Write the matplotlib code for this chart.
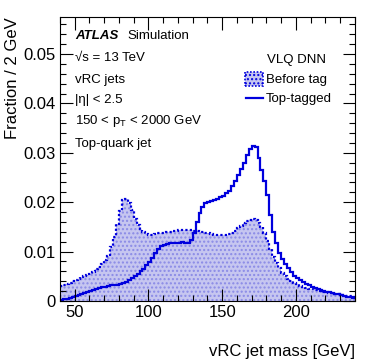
import numpy as np
import matplotlib
matplotlib.use("Agg")
import matplotlib.pyplot as plt
from matplotlib.ticker import MultipleLocator, FuncFormatter
from matplotlib.patches import Rectangle
from matplotlib.lines import Line2D

plt.rcParams['font.family'] = ['Liberation Sans', 'DejaVu Sans']
plt.rcParams['mathtext.fontset'] = 'custom'
plt.rcParams['mathtext.rm'] = 'Liberation Sans'
plt.rcParams['mathtext.it'] = 'Liberation Sans:italic'

# bin edges: 2 GeV bins from 40 to 240 GeV
bin_edges = np.arange(40, 242, 2)

# fraction per bin (x 1e-3)
before_tag = [
    3.0, 3.2, 3.4, 3.7, 4.0, 4.3, 4.5, 4.8, 5.0, 5.2,
    5.5, 5.9, 6.4, 6.9, 7.5, 8.2, 9.2, 10.9, 12.9, 15.5,
    18.3, 20.4, 20.6, 19.8, 18.5, 16.6, 15.3, 14.5, 14.0, 13.6,
    13.4, 13.4, 13.6, 13.7, 13.8, 13.8, 13.9, 14.0, 14.1, 14.2,
    14.3, 14.3, 14.4, 14.4, 14.3, 14.2, 14.2, 14.0, 13.9, 13.8,
    13.7, 13.5, 13.4, 13.3, 13.3, 13.3, 13.4, 13.5, 13.8, 14.2,
    14.7, 15.2, 15.7, 16.1, 16.4, 16.5, 16.3, 15.8, 15.0, 13.8,
    12.2, 10.5, 8.9, 7.6, 6.6, 5.7, 5.0, 4.5, 4.1, 3.7,
    3.4, 3.1, 2.9, 2.7, 2.5, 2.4, 2.2, 2.1, 2.0, 1.9,
    1.8, 1.7, 1.6, 1.5, 1.4, 1.3, 1.2, 1.1, 1.0, 0.9,
]
top_tagged = [
    0.2, 0.4, 0.5, 0.7, 0.9, 1.0, 1.2, 1.4, 1.6, 1.8,
    2.0, 2.2, 2.4, 2.6, 2.8, 2.9, 3.0, 3.2, 3.3, 3.3,
    3.4, 3.6, 3.9, 4.3, 4.7, 5.1, 5.5, 6.0, 6.5, 7.2,
    7.9, 8.8, 9.8, 10.6, 11.1, 11.4, 11.6, 11.7, 11.8, 11.8,
    11.8, 11.9, 11.8, 11.8, 12.4, 13.8, 16.0, 17.8, 19.0, 19.8,
    20.1, 20.3, 20.5, 20.7, 21.0, 21.3, 21.8, 22.3, 23.2, 24.3,
    25.6, 26.8, 28.0, 29.5, 30.8, 31.3, 31.2, 29.0, 26.5, 24.3,
    21.5, 17.5, 14.0, 11.8, 9.8, 8.5, 7.5, 6.6, 5.8, 5.1,
    4.6, 4.2, 3.8, 3.5, 3.2, 2.9, 2.7, 2.5, 2.3, 2.1,
    1.9, 1.8, 1.6, 1.5, 1.4, 1.2, 1.1, 0.9, 0.8, 0.6,
]

before_tag = np.array(before_tag) / 1000.0
top_tagged = np.array(top_tagged) / 1000.0

blue = "#0000dd"
fill_col = "#c6c6f0"

fig = plt.figure(figsize=(3.74, 3.59), dpi=100)
ax = fig.add_axes([0.160, 0.1616, 0.789, 0.791])

# before tag: filled, hatched, dotted outline
ax.stairs(before_tag, bin_edges, fill=True, facecolor=fill_col,
          edgecolor="#8a8ae6", hatch="....", linewidth=0, baseline=0)
ax.stairs(before_tag, bin_edges, color=blue, linewidth=1.6,
          linestyle=(0, (1, 1)), baseline=None)

# top-tagged: solid line
ax.stairs(top_tagged, bin_edges, color=blue, linewidth=1.6, baseline=None)

ax.set_xlim(40, 240)
ax.set_ylim(0, 0.0575)

ax.xaxis.set_major_locator(MultipleLocator(50))
ax.xaxis.set_minor_locator(MultipleLocator(10))
ax.yaxis.set_major_locator(MultipleLocator(0.01))
ax.yaxis.set_minor_locator(MultipleLocator(0.002))
ax.yaxis.set_major_formatter(FuncFormatter(lambda v, p: "0" if abs(v) < 1e-9 else "%g" % v))

ax.tick_params(which="both", direction="in", top=True, right=True, labelsize=12)
ax.tick_params(which="major", length=9, width=0.8, pad=3)
ax.tick_params(which="minor", length=4.5, width=0.8)
for s in ax.spines.values():
    s.set_linewidth(0.8)

ax.set_xlabel("vRC jet mass [GeV]", fontsize=12, loc="right")
ax.xaxis.set_label_coords(1.0, -0.15)
ax.set_ylabel("Fraction / 2 GeV", fontsize=12, loc="top")
ax.yaxis.set_label_coords(-0.136, 1.0)

# ATLAS label and info text
fig.text(75 / 374, 1 - 39 / 359, "ATLAS", fontsize=9.5, fontweight="bold",
         fontstyle="italic")
fig.text(127 / 374, 1 - 39 / 359, "Simulation", fontsize=9.5)
info = ["√s = 13 TeV", "vRC jets", "|η| < 2.5",
        r"150 < p$_{\rm T}$ < 2000 GeV", "Top-quark jet"]
ys = [61, 83, 103, 124, 147]
for t, y in zip(info, ys):
    fig.text(75 / 374, 1 - y / 359, t, fontsize=9.5)

# legend
fig.text(267 / 374, 1 - 63 / 359, "VLQ DNN", fontsize=9.5)
box = Rectangle((245 / 374, 1 - 86 / 359), 18 / 374, 14 / 359,
                transform=fig.transFigure, facecolor=fill_col,
                edgecolor=blue, hatch="....", linewidth=1.2,
                linestyle=(0, (1, 1)))
fig.add_artist(box)
fig.text(266 / 374, 1 - 83 / 359, "Before tag", fontsize=9.5)
fig.add_artist(Line2D([246 / 374, 263 / 374], [1 - 98 / 359, 1 - 98 / 359],
                      transform=fig.transFigure, color=blue, linewidth=1.6))
fig.text(266 / 374, 1 - 102 / 359, "Top-tagged", fontsize=9.5)

fig.savefig("out.png", dpi=100)
